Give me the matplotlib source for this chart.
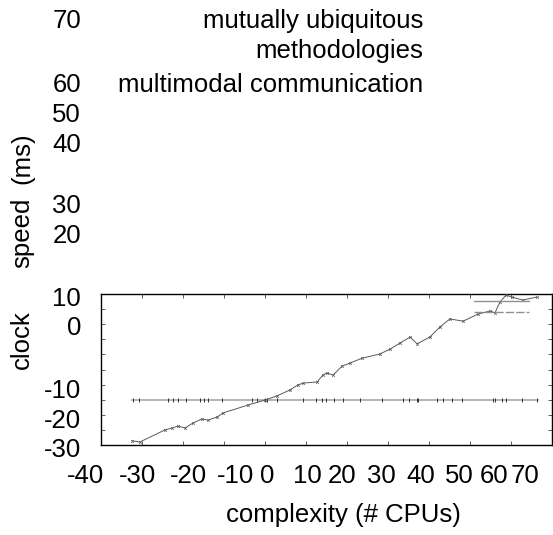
import matplotlib
matplotlib.use('Agg')
from matplotlib import pyplot as plt
from matplotlib.lines import Line2D

plt.rcParams['font.family'] = ['Liberation Sans', 'DejaVu Sans']

# rising series
clock_x = [-32.4, -30.5, -24.4, -22.7, -21.2, -19.5, -17.6, -15.4, -13.9, -11.7, -10.2, -4.1,
           0.0, 2.9, 6.1, 8.0, 9.3, 12.7, 14.1, 15.1, 16.6, 18.8, 20.7, 23.7, 28.0, 30.5,
           32.9, 35.4, 37.1, 40.2, 42.7, 45.1, 48.3, 52.0, 54.9, 56.1, 57.3, 58.8, 60.2, 62.9, 66.3]
clock_y = [-28.9, -29.2, -26.0, -25.5, -25.0, -25.5, -24.2, -23.1, -23.4, -22.6, -21.5, -19.4,
           -18.1, -17.0, -15.4, -14.1, -13.6, -13.3, -11.5, -10.9, -11.5, -9.1, -8.3, -7.0, -5.9, -4.6,
           -3.0, -1.4, -3.2, -1.4, 1.3, 3.4, 2.8, 4.7, 5.5, 5.0, 7.9, 9.7, 9.2, 8.4, 9.2]

# flat series
flat_level = -18.1
flat_span = [-32.4, 66.6]
flat_x = [-32.2, -30.7, -23.7, -22.4, -21.2, -19.3, -15.9, -14.9, -13.9, -10.5, -3.2, -2.0,
          0.0, 0.5, 2.9, 9.3, 12.4, 13.9, 14.9, 16.8, 19.0, 23.2, 28.5, 33.7, 35.1, 37.1, 37.3,
          42.0, 43.4, 45.6, 48.0, 55.6, 56.1, 57.8, 58.8, 62.7, 66.3]

legend_labels = ['mutually ubiquitous', 'methodologies', 'multimodal communication']
xtick_labels = ['-40', '-30', '-20', '-10', '0', '10', '20', '30', '40', '50', '60', '70']
ytick_labels = ['70', '60', '50', '40', '30', '20', '10', '0', '-10', '-20', '-30']

W, H = 553, 535
FS = 18.5


def fx(px):
    return px / W


def fy(py):
    return 1 - py / H


fig = plt.figure(figsize=(W / 100, H / 100), dpi=100)
ax = fig.add_axes([fx(101), fy(445), (552 - 101) / W, (445 - 294) / H])

ax.plot(flat_span, [flat_level] * 2, color='#b0b0b0', lw=1.3, zorder=2)
ax.plot(flat_x, [flat_level] * len(flat_x), ls='none', marker='|', ms=2.5, mew=0.7,
        color='#333333', zorder=3)
ax.plot(clock_x, clock_y, color='#5a5a5a', lw=0.7, marker='x', ms=2, mew=0.5, zorder=4)

ax.set_xlim(-40, 70)
ax.set_ylim(-30, 10)
ax.set_xticks(range(-30, 61, 10))
ax.set_yticks(range(-26, 7, 4))
ax.tick_params(direction='in', length=3, width=0.6, top=True, right=True,
               labelbottom=False, labelleft=False, color='#444444')
for s in ax.spines.values():
    s.set_linewidth(1.0)

# legend key samples sit inside the plot, the texts sit on top
keys = [Line2D([], [], color='#909090', lw=1.0),
        Line2D([], [], color='#909090', lw=1.0, ls=(0, (6, 1.5)))]
ax.legend(keys, ['', ''], loc='upper left', frameon=False, prop={'size': 6},
          handlelength=6.6, handletextpad=0, borderpad=0, labelspacing=0.35,
          bbox_to_anchor=((470 - 101) / 451, (445 - 294) / 151))

for lab, py in zip(legend_labels, [28, 58, 92]):
    fig.text(fx(423), fy(py), lab, ha='right', va='baseline', fontsize=FS)

# tick labels as drawn in the reference
for lab, px in zip(xtick_labels, [86, 137, 188, 235, 267, 307, 342, 381, 421, 459, 494, 525]):
    fig.text(fx(px), fy(483), lab, ha='center', va='baseline', fontsize=FS)
for lab, py in zip(ytick_labels, [28, 92, 122, 152, 213, 243, 306, 335, 398, 428, 457]):
    fig.text(fx(81), fy(py), lab, ha='right', va='baseline', fontsize=FS)

fig.text(fx(343), fy(522), 'complexity (# CPUs)', ha='center', va='baseline', fontsize=FS)
for word, py in zip(['clock', 'speed', '(ms)'], [340, 233, 158]):
    fig.text(fx(22), fy(py), word, rotation=90, ha='center', va='center', fontsize=FS)

fig.savefig('out.png', dpi=100)
